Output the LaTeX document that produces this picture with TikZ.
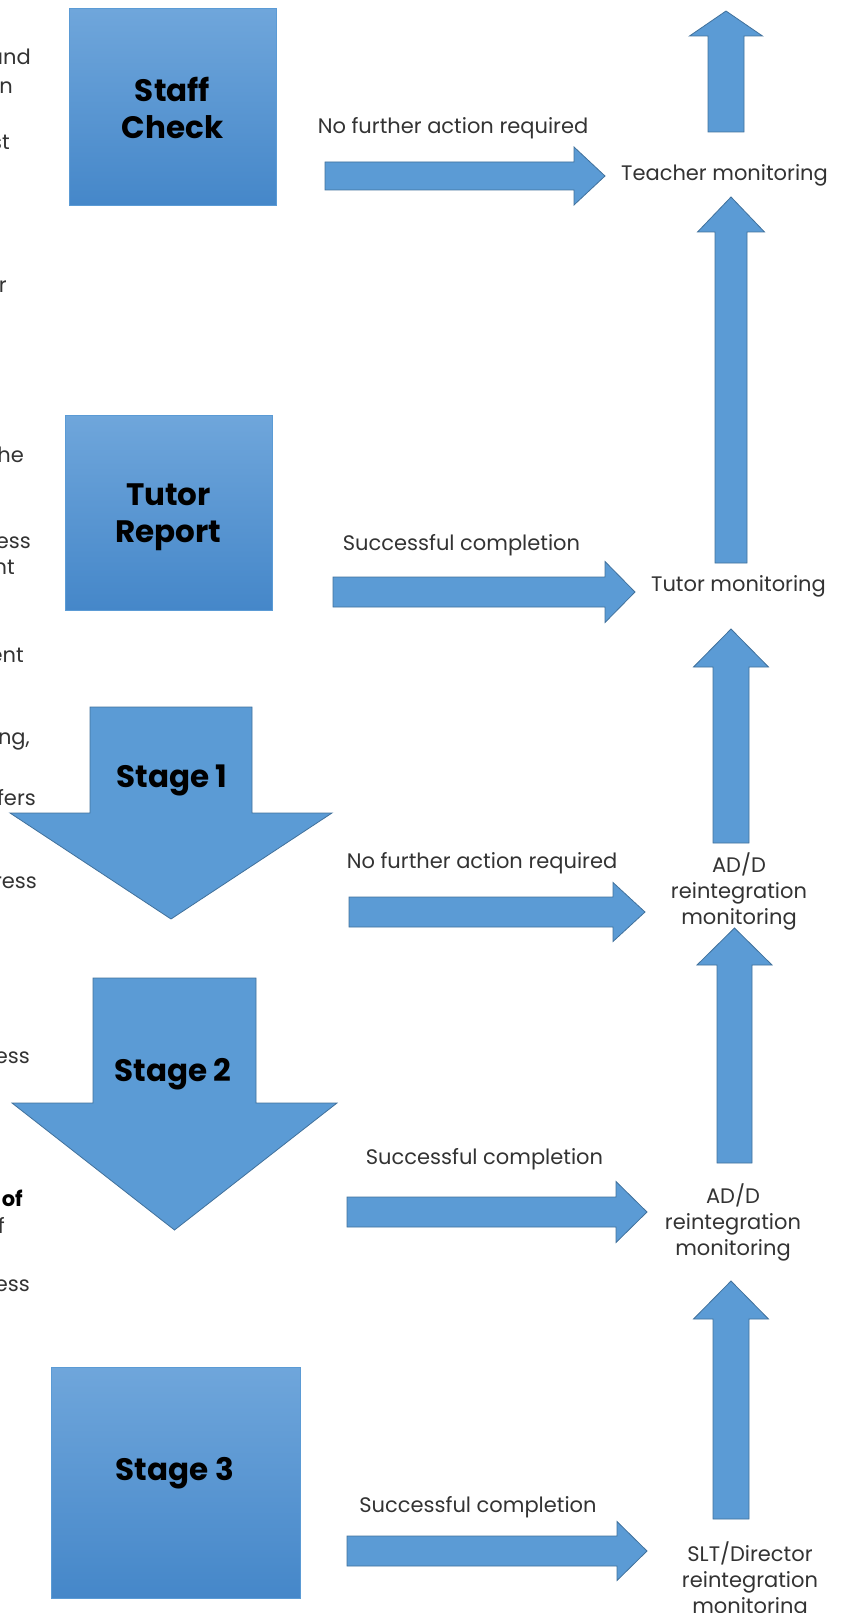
\documentclass[tikz,border=0pt]{standalone}
\usepackage{fontspec}
\setmainfont{Poppins}
\usepackage{tikz}
\usetikzlibrary{calc}

\definecolor{arrowblue}{HTML}{5B9BD5}
\definecolor{arrowedge}{HTML}{41719C}
\definecolor{boxtop}{HTML}{6FA6DB}
\definecolor{boxbottom}{HTML}{4587C9}
\definecolor{labelgrey}{HTML}{333333}

% block arrow: tail, tip, shaft half width, head half width, head length
\newcommand{\blockarrow}[5]{%
  \path ($(#2)!#5!(#1)$) coordinate (ba);
  \filldraw[bigarrow] ($(#1)!#3!90:(#2)$) -- ($(ba)!#3!90:(#2)$) -- ($(ba)!#4!90:(#2)$) -- (#2)
    -- ($(ba)!#4!-90:(#2)$) -- ($(ba)!#3!-90:(#2)$) -- ($(#1)!#3!-90:(#2)$) -- cycle;
}

\begin{document}
\begin{tikzpicture}[x=1pt, y=-1pt,
  bigarrow/.style={fill=arrowblue, draw=arrowedge, line width=0.8pt},
  boxtext/.style={font=\fontsize{31}{37}\selectfont\bfseries, align=center},
  stagebox/.style={draw=arrowblue, line width=1pt, top color=boxtop, bottom color=boxbottom, inner sep=0pt},
  flowlabel/.style={font=\fontsize{21}{26}\selectfont, text=labelgrey, align=center},
  frag/.style={font=\fontsize{21}{26}\selectfont, text=labelgrey, anchor=base east, inner sep=0pt}]

\useasboundingbox (0,0) rectangle (840,1613);
\clip (0,0) rectangle (840,1613);

% Cut-off text on the left edge
\node[frag] (frag1) at (31,65) {and};
\node[frag] (frag2) at (13,94) {n};
\node[frag] (frag3) at (10,150) {st};
\node[frag] (frag4) at (7,292) {or};
\node[frag] (frag5) at (24,462) {he};
\node[frag] (frag6) at (31,548) {ress};
\node[frag] (frag7) at (15,574) {nt};
\node[frag] (frag8) at (24,662) {ent};
\node[frag] (frag9) at (30,744) {ng,};
\node[frag] (frag10) at (36,805) {efers};
\node[frag] (frag11) at (37,888) {dress};
\node[frag] (frag12) at (30,1063) {ress};
\node[frag, font=\fontsize{21}{26}\selectfont\bfseries, text=black] (frag13) at (23,1206) {of};
\node[frag] (frag14) at (5,1233) {f};
\node[frag] (frag15) at (30,1291) {ress};

% Staff check box
\node[stagebox, minimum width=207pt, minimum height=197pt] (staff) at (172.5,107.5) {};
\node[boxtext] (stafftext) at (172.5,107.5) {Staff\\Check};

% Tutor report box
\node[stagebox, minimum width=207pt, minimum height=195pt] (tutor) at (168.5,512.5) {};
\node[boxtext] (tutortext) at (168.5,517.5) {Tutor\\Report};

% Stage 1 down arrow
\coordinate (s1-top) at (171,707);
\coordinate (s1-tip) at (171,919);
\blockarrow{s1-top}{s1-tip}{81pt}{161pt}{106pt}
\node[boxtext] (stage1) at (172,780) {Stage 1};

% Stage 2 down arrow
\coordinate (s2-top) at (174.5,978);
\coordinate (s2-tip) at (174.5,1230);
\blockarrow{s2-top}{s2-tip}{81.5pt}{162.5pt}{127pt}
\node[boxtext] (stage2) at (173,1074) {Stage 2};

% Stage 3 box, text sits above the middle
\node[stagebox, minimum width=249pt, minimum height=231pt] (stage3) at (175.5,1482.5) {};
\node[boxtext] (stage3text) at (175,1473) {Stage 3};

% Monitoring labels on the right
\node[flowlabel] (teacher) at (724.5,175) {Teacher monitoring};
\node[flowlabel] (tutormon) at (738.5,586) {Tutor monitoring};
\node[flowlabel] (add1) at (739,891) {AD/D\\reintegration\\monitoring};
\node[flowlabel] (add2) at (733,1222) {AD/D\\reintegration\\monitoring};
\node[flowlabel] (slt) at (750,1580) {SLT/Director\\reintegration\\monitoring};

% Labels over the horizontal arrows
\node[flowlabel] (nfa1) at (453,128) {No further action required};
\node[flowlabel] (sc1) at (461.5,545) {Successful completion};
\node[flowlabel] (nfa2) at (482,863) {No further action required};
\node[flowlabel] (sc2) at (484.5,1159) {Successful completion};
\node[flowlabel] (sc3) at (478,1507) {Successful completion};

% Horizontal arrows
\coordinate (staff-out) at (325,176);
\coordinate (teacher-in) at (605,176);
\blockarrow{staff-out}{teacher-in}{14pt}{29pt}{31pt}

\coordinate (tutor-out) at (333,592);
\coordinate (tutormon-in) at (635,592);
\blockarrow{tutor-out}{tutormon-in}{15pt}{30.5pt}{30pt}

\coordinate (stage1-out) at (349,912);
\coordinate (add1-in) at (645,912);
\blockarrow{stage1-out}{add1-in}{15pt}{29.5pt}{32pt}

\coordinate (stage2-out) at (347,1212);
\coordinate (add2-in) at (647,1212);
\blockarrow{stage2-out}{add2-in}{15pt}{30.5pt}{31pt}

\coordinate (stage3-out) at (347,1551);
\coordinate (slt-in) at (647,1551);
\blockarrow{stage3-out}{slt-in}{15pt}{29.5pt}{30pt}

% Vertical arrows up the right side
\coordinate (teacher-up) at (726,132);
\coordinate (top-end) at (726,11);
\blockarrow{teacher-up}{top-end}{18pt}{36.5pt}{25pt}

\coordinate (tutormon-up) at (731,563);
\coordinate (teacher-below) at (731,197);
\blockarrow{tutormon-up}{teacher-below}{16pt}{33.5pt}{35pt}

\coordinate (add1-up) at (731,843);
\coordinate (tutormon-below) at (731,629);
\blockarrow{add1-up}{tutormon-below}{18pt}{37.5pt}{38pt}

\coordinate (add2-up) at (734.5,1163);
\coordinate (add1-below) at (734.5,928);
\blockarrow{add2-up}{add1-below}{17.5pt}{37.5pt}{37pt}

\coordinate (slt-up) at (731,1519);
\coordinate (add2-below) at (731,1281);
\blockarrow{slt-up}{add2-below}{18pt}{37.5pt}{38pt}

\end{tikzpicture}
\end{document}
